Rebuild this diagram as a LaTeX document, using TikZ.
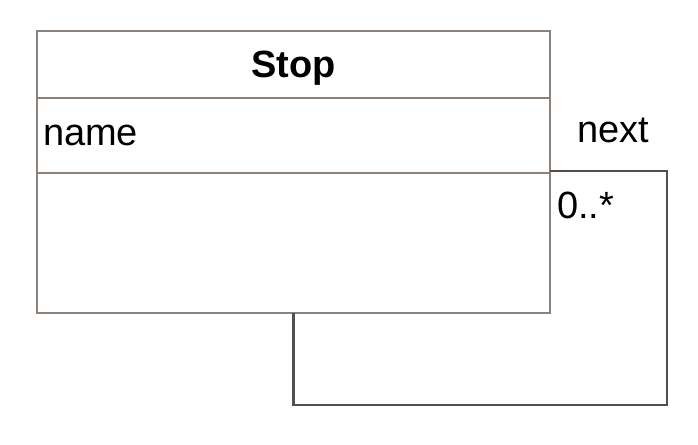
\documentclass[tikz,border=0pt]{standalone}
\usepackage{fontspec}
\setmainfont{Liberation Sans}
\usepackage{tikz}
\usetikzlibrary{positioning}

\definecolor{boxline}{HTML}{8C8279}
\definecolor{loopline}{HTML}{505050}

\begin{document}
\begin{tikzpicture}[
    compart/.style={draw=boxline, line width=1.3pt, minimum width=12.825cm,
                    inner xsep=0.15cm, outer sep=0pt},
    assoc/.style={draw=loopline, line width=1.8pt},
    every node/.style={font=\fontsize{27}{32}\selectfont}]
  \useasboundingbox (0,0) rectangle (17.45,11.125);
  \node (stop) [compart, minimum height=1.675cm, text depth=0pt]
    at (7.3375,9.5125) {\bfseries Stop};
  \node (attr) [compart, minimum height=1.875cm, below=0pt of stop,
                text width=12.525cm, align=left]
    {name};
  \node (ops) [compart, minimum height=3.5cm, below=0pt of attr] {};
  \coordinate (bend) at (16.675,1.0);
  \draw[assoc] (ops.south) |- (bend) |- ([yshift=1.5pt]ops.north east);
  \node (role) at (15.325,7.875) {next};
  \node (mult) [anchor=west, inner sep=0pt] at (13.925,6.0) {0..*};
\end{tikzpicture}
\end{document}
